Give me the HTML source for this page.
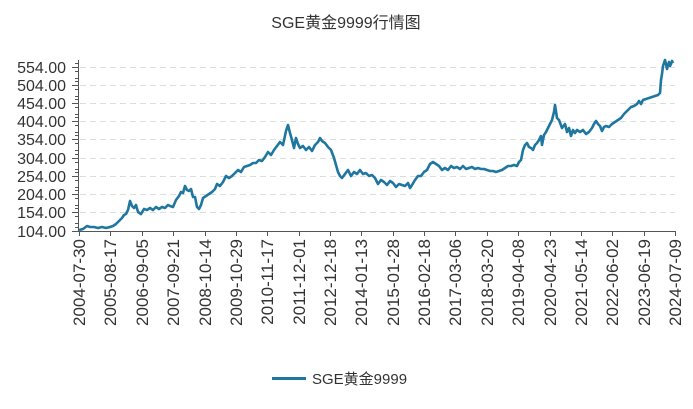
<!DOCTYPE html>
<html><head><meta charset="utf-8"><style>
body{margin:0;background:#fff;width:693px;height:404px;overflow:hidden}
text{font-family:"Liberation Sans","Noto Sans CJK SC",sans-serif;fill:#333}
</style></head><body>
<svg width="693" height="404" xmlns="http://www.w3.org/2000/svg">
<text x="346" y="28" font-size="16" text-anchor="middle">SGE黄金9999行情图</text>
<g stroke="#ddd" stroke-dasharray="6,4" stroke-width="1">
<line x1="80" x2="675" y1="67.5" y2="67.5"/><line x1="80" x2="675" y1="85.5" y2="85.5"/>
<line x1="80" x2="675" y1="103.5" y2="103.5"/><line x1="80" x2="675" y1="121.5" y2="121.5"/>
<line x1="80" x2="675" y1="139.5" y2="139.5"/><line x1="80" x2="675" y1="158.5" y2="158.5"/>
<line x1="80" x2="675" y1="176.5" y2="176.5"/><line x1="80" x2="675" y1="194.5" y2="194.5"/>
<line x1="80" x2="675" y1="212.5" y2="212.5"/>
</g>
<g font-size="16" text-anchor="end">
<text x="66" y="73">554.00</text><text x="66" y="91">504.00</text><text x="66" y="109">454.00</text>
<text x="66" y="127">404.00</text><text x="66" y="145">354.00</text><text x="66" y="164">304.00</text>
<text x="66" y="182">254.00</text><text x="66" y="200">204.00</text><text x="66" y="218">154.00</text>
<text x="66" y="237">104.00</text>
</g>
<g stroke="#555" stroke-width="1">
<line x1="78.5" y1="60" x2="78.5" y2="231"/>
<line x1="78" y1="231.5" x2="676" y2="231.5"/>
<path d="M72 67.5h6M72 85.5h6M72 103.5h6M72 121.5h6M72 139.5h6M72 158.5h6M72 176.5h6M72 194.5h6M72 212.5h6M72 231.5h6"/>
<path d="M75 63.5h3M75 71.5h3M75 78.5h3M75 81.5h3M75 89.5h3M75 96.5h3M75 99.5h3M75 107.5h3M75 114.5h3M75 117.5h3M75 125.5h3M75 132.5h3M75 135.5h3M75 143.5h3M75 150.5h3M75 154.5h3M75 162.5h3M75 169.5h3M75 172.5h3M75 180.5h3M75 187.5h3M75 190.5h3M75 198.5h3M75 205.5h3M75 208.5h3M75 216.5h3M75 223.5h3M75 227.5h3"/>
<path d="M79.5 231v5M110.5 231v5M142.5 231v5M173.5 231v5M205.5 231v5M236.5 231v5M267.5 231v5M299.5 231v5M330.5 231v5M361.5 231v5M393.5 231v5M424.5 231v5M455.5 231v5M487.5 231v5M518.5 231v5M550.5 231v5M581.5 231v5M612.5 231v5M644.5 231v5M675.5 231v5"/>
</g>
<g font-size="17" text-anchor="end">
<text transform="translate(85,239) rotate(-90)">2004-07-30</text>
<text transform="translate(116,239) rotate(-90)">2005-08-17</text>
<text transform="translate(148,239) rotate(-90)">2006-09-05</text>
<text transform="translate(179,239) rotate(-90)">2007-09-21</text>
<text transform="translate(211,239) rotate(-90)">2008-10-14</text>
<text transform="translate(242,239) rotate(-90)">2009-10-29</text>
<text transform="translate(273,239) rotate(-90)">2010-11-17</text>
<text transform="translate(305,239) rotate(-90)">2011-12-01</text>
<text transform="translate(336,239) rotate(-90)">2012-12-18</text>
<text transform="translate(367,239) rotate(-90)">2014-01-13</text>
<text transform="translate(399,239) rotate(-90)">2015-01-28</text>
<text transform="translate(430,239) rotate(-90)">2016-02-18</text>
<text transform="translate(461,239) rotate(-90)">2017-03-06</text>
<text transform="translate(493,239) rotate(-90)">2018-03-20</text>
<text transform="translate(524,239) rotate(-90)">2019-04-08</text>
<text transform="translate(556,239) rotate(-90)">2020-04-23</text>
<text transform="translate(587,239) rotate(-90)">2021-05-14</text>
<text transform="translate(618,239) rotate(-90)">2022-06-02</text>
<text transform="translate(650,239) rotate(-90)">2023-06-19</text>
<text transform="translate(681,239) rotate(-90)">2024-07-09</text>
</g>
<polyline fill="none" stroke="#1f77a0" stroke-width="2.6" stroke-linejoin="round" points="79,230 83,229 87,226 90,227 94,227 98,228 102,227 106,228 110,227 113,226 116,224 119,221 122,218 124,215 126,214 128,210 130,201 132,206 134,208 136,205 138,212 141,214 144,209 147,210 150,208 153,210 156,207 159,209 162,207 165,208 168,205 170,206 173,207 176,200 179,196 181,192 183,193 185,186 187,190 189,191 191,189 193,197 195,197 197,207 199,209 201,205 203,198 206,196 209,194 212,192 215,189 217,184 220,186 223,182 226,176 229,178 232,176 235,173 238,170 241,172 244,167 247,166 250,165 253,163 256,163 259,160 262,161 265,157 268,152 271,155 274,150 277,146 280,142 283,145 286,131 288,125 290,133 292,140 294,148 296,138 298,144 300,148 303,146 306,150 309,147 312,151 315,145 318,142 320,138 322,141 325,143 328,147 331,150 334,158 336,165 338,172 340,176 342,178 345,174 348,170 351,176 354,172 357,174 360,170 363,174 366,173 369,176 372,175 375,178 378,184 381,180 384,182 387,185 390,181 393,183 396,187 399,184 402,185 405,186 408,183 410,188 412,185 415,180 418,176 421,176 424,172 427,170 430,164 433,162 436,164 439,166 442,170 445,168 448,170 451,166 454,168 457,167 460,169 463,166 466,169 469,168 472,167 475,169 478,168 481,169 484,169 487,170 490,171 493,171 496,172 499,171 502,170 505,168 508,166 511,166 514,165 517,166 519,162 521,160 523,150 525,145 527,143 529,147 531,148 533,150 535,145 537,143 539,140 541,136 542,145 544,135 546,132 548,128 550,124 552,120 554,112 555,105 557,118 559,120 562,128 565,124 567,132 569,128 571,136 573,130 575,133 577,130 580,132 583,130 586,134 589,132 592,128 594,124 596,121 598,124 600,126 602,131 604,127 606,126 609,127 612,124 615,122 618,120 621,118 624,114 626,112 628,110 631,107 634,106 637,104 639,101 641,104 643,100 646,99 649,98 652,97 655,96 658,95 660,93 661,80 662,74 663,66 664,63 665,60 666,64 667,69 668,65 669,62 670,66 671,64 672,61 673,63"/>
<line x1="272" y1="378.5" x2="306" y2="378.5" stroke="#1f77a0" stroke-width="3"/>
<text x="312" y="384" font-size="15">SGE黄金9999</text>
</svg>
</body></html>
